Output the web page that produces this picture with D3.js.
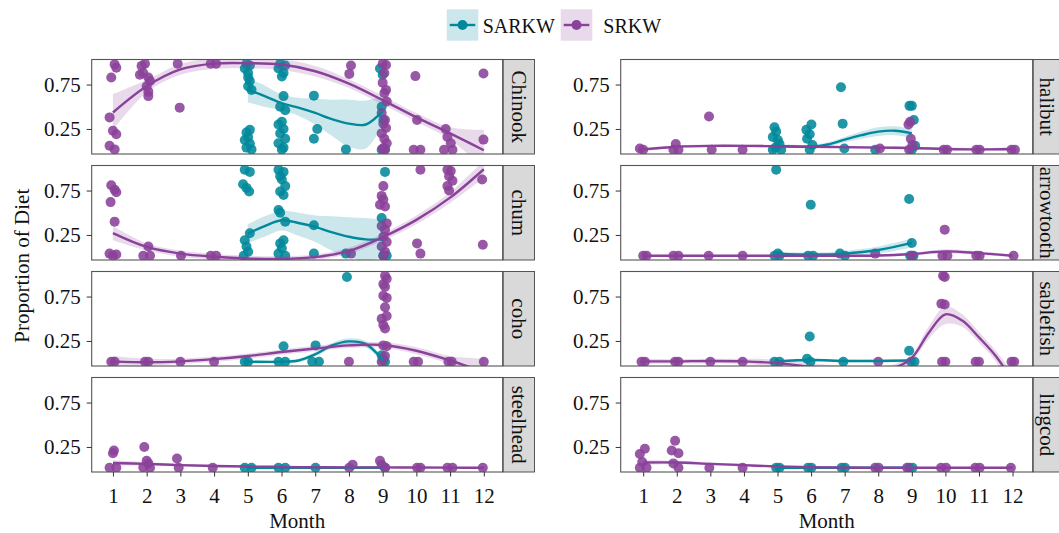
<!DOCTYPE html>
<html><head><meta charset="utf-8">
<script src="https://cdn.jsdelivr.net/npm/d3@7"></script>
<style>
body{margin:0;background:#fff}
svg{display:block}
text{font-family:"Liberation Serif","Times New Roman",serif;fill:#111}
</style>
</head><body>
<svg id="chart" width="1059" height="533"></svg>
<script>
// ---------- data ----------
const months = [1,2,3,4,5,6,7,8,9,10,11,12];
const yTicks = [0.25, 0.75];
const populations = ["SARKW","SRKW"];
const leftPrey = ["Chinook","chum","coho","steelhead"];
const rightPrey = ["halibut","arrowtooth","sablefish","lingcod"];

// points: [month (jittered), proportion]
const chinookSRKW = [[1.05,0.977],[1.1,0.94],[0.95,0.83],[0.9,0.38],[1.0,0.23],[1.1,0.19],[0.9,0.06],[1.05,0.02],
 [1.95,0.984],[1.85,0.96],[1.9,0.88],[1.8,0.86],[2.05,0.83],[2.1,0.79],[2.0,0.73],[2.05,0.67],[2.05,0.62],
 [2.92,0.984],[2.98,0.49],[3.9,0.984],[4.06,0.984],[8.06,0.965],[8.01,0.87],
 [9.0,0.984],[9.1,0.97],[9.05,0.88],[9.0,0.77],[9.1,0.69],[9.05,0.655],[9.12,0.56],[8.97,0.43],[9.07,0.35],[9.02,0.31],[9.1,0.26],[8.97,0.2],[9.05,0.14],[9.12,0.09],[9.0,0.03],[9.07,0.016],
 [9.97,0.845],[10.02,0.35],[9.92,0.016],[10.12,0.016],
 [10.87,0.25],[10.92,0.16],[11.02,0.09],[11.07,0.016],[10.82,0.016],[11.99,0.875],[11.99,0.13]];
const chinookSARKW = [[4.96,0.984],[5.06,0.965],[4.91,0.93],[5.01,0.88],[5.01,0.83],[5.06,0.79],[5.01,0.73],[5.11,0.69],
 [5.06,0.24],[4.96,0.21],[5.01,0.16],[4.91,0.125],[5.06,0.087],[4.96,0.04],[5.11,0.02],
 [5.96,0.984],[6.11,0.965],[5.91,0.93],[6.06,0.88],[6.01,0.84],[6.06,0.62],[5.96,0.5],[6.11,0.46],[6.01,0.33],[5.91,0.3],[6.06,0.25],[5.96,0.2],[6.11,0.14],[5.91,0.09],[6.06,0.04],[6.01,0.02],
 [6.96,0.625],[7.06,0.25],[6.96,0.14],[7.91,0.02],
 [8.92,0.93],[9.0,0.86],[8.97,0.5],[9.02,0.35],[9.07,0.03],[8.97,0.016]];
const chumSRKW = [[0.95,0.81],[1.05,0.76],[1.1,0.73],[0.93,0.62],[1.05,0.4],[0.9,0.04],[1.0,0.016],[1.1,0.03],
 [2.05,0.12],[1.9,0.016],[2.1,0.016],[3.02,0.016],[3.9,0.016],[4.06,0.016],[8.06,0.04],
 [9.02,0.8],[8.97,0.69],[9.02,0.65],[8.92,0.59],[9.07,0.57],[9.12,0.38],[8.97,0.35],[9.07,0.31],[9.02,0.23],[9.12,0.17],[8.97,0.12],[9.07,0.06],[9.02,0.016],
 [10.12,0.984],[10.02,0.155],[10.12,0.04],
 [10.92,0.984],[11.02,0.97],[10.97,0.91],[11.07,0.86],[10.92,0.8],[10.97,0.75],[11.95,0.875],[11.97,0.14]];
const chumSARKW = [[4.91,0.984],[5.06,0.96],[4.86,0.82],[4.96,0.78],[5.04,0.74],[5.06,0.27],[4.91,0.19],[4.96,0.12],[5.01,0.06],[4.88,0.016],
 [5.91,0.984],[6.06,0.96],[5.96,0.91],[6.01,0.875],[6.11,0.8],[5.96,0.74],[6.06,0.7],[5.91,0.53],[5.96,0.5],[6.11,0.4],[6.06,0.19],[5.96,0.155],[6.01,0.1],[5.91,0.04],[6.11,0.016],
 [6.96,0.36],[6.96,0.04],[7.91,0.04],[9.07,0.96],[8.97,0.44],[9.02,0.016],[9.12,0.016]];
const cohoSRKW = [[0.95,0.016],[1.05,0.016],[1.95,0.016],[2.05,0.016],[3.0,0.016],[4.0,0.016],[8.0,0.016],[9.92,0.016],[10.05,0.016],[10.95,0.016],[11.05,0.016],[12.0,0.016],
 [9.07,0.984],[9.12,0.95],[9.02,0.89],[9.07,0.86],[9.02,0.76],[9.12,0.735],[9.07,0.63],[9.12,0.53],[8.97,0.5],[9.02,0.43],[9.07,0.39],[9.02,0.2],[9.12,0.19],[9.07,0.08],[8.97,0.016]];
const cohoSARKW = [[5.01,0.016],[4.91,0.016],[5.91,0.016],[6.11,0.016],[6.06,0.19],[7.01,0.2],[6.91,0.016],[7.11,0.016],[7.94,0.97],[8.97,0.09],[9.02,0.04],[9.07,0.016]];
const steelheadSRKW = [[1.03,0.21],[1.0,0.18],[0.9,0.016],[1.1,0.016],[1.93,0.25],[2.0,0.095],[2.05,0.065],[1.9,0.02],[2.1,0.016],
 [2.9,0.12],[2.95,0.016],[3.96,0.016],[8.11,0.05],[8.01,0.016],[8.92,0.095],[8.97,0.05],[9.07,0.016],
 [10.02,0.016],[10.12,0.016],[10.92,0.016],[11.07,0.016],[11.97,0.016]];
const steelheadSARKW = [[4.91,0.016],[5.11,0.016],[5.91,0.016],[6.11,0.016],[7.01,0.016],[9.07,0.016]];
const halibutSRKW = [[0.9,0.03],[1.0,0.016],[1.97,0.08],[2.05,0.016],[1.9,0.016],[2.96,0.39],[3.04,0.016],[3.96,0.016],[8.05,0.03],
 [8.9,0.3],[8.95,0.33],[8.97,0.14],[9.02,0.07],[8.92,0.016],[9.95,0.016],[10.05,0.016],[10.92,0.016],[11.02,0.016],[11.97,0.016],[12.07,0.016]];
const halibutSARKW = [[4.91,0.27],[4.96,0.22],[4.86,0.16],[5.01,0.125],[5.06,0.08],[4.94,0.04],[5.11,0.016],[4.86,0.016],
 [6.01,0.3],[5.86,0.24],[5.96,0.19],[5.88,0.14],[6.04,0.07],[5.96,0.016],
 [6.89,0.72],[6.94,0.31],[6.99,0.03],[7.91,0.016],[8.93,0.51],[9.0,0.51],[9.06,0.35],[9.1,0.06],[9.0,0.016]];
const arrowtoothSRKW = [[1.0,0.016],[1.1,0.016],[1.9,0.016],[2.05,0.016],[2.95,0.016],[3.96,0.016],[7.91,0.04],[9.0,0.016],
 [9.98,0.31],[9.91,0.016],[10.06,0.016],[10.92,0.016],[11.02,0.016],[12.03,0.016]];
const arrowtoothSARKW = [[4.96,0.984],[5.01,0.04],[5.06,0.016],[4.91,0.016],[5.99,0.59],[5.91,0.016],[6.06,0.016],[6.86,0.04],[7.01,0.016],
 [8.92,0.655],[9.0,0.16],[8.95,0.016],[9.05,0.016]];
const sablefishSRKW = [[0.95,0.016],[1.05,0.016],[1.95,0.016],[2.05,0.016],[3.0,0.016],[3.96,0.016],[8.0,0.016],
 [9.93,0.984],[9.98,0.97],[9.88,0.67],[9.98,0.66],[9.9,0.016],[10.0,0.016],[10.9,0.016],[11.0,0.016],[11.97,0.016],[12.05,0.016]];
const sablefishSARKW = [[4.91,0.016],[5.06,0.016],[5.96,0.3],[5.88,0.05],[5.98,0.016],[6.96,0.016],[8.92,0.14],[8.98,0.016],[9.08,0.016]];
const lingcodSRKW = [[0.9,0.17],[1.05,0.23],[0.97,0.08],[1.1,0.016],[0.9,0.016],[1.95,0.32],[1.85,0.21],[2.05,0.18],[1.9,0.065],[2.05,0.016],
 [2.97,0.016],[3.96,0.016],[7.91,0.016],[8.01,0.016],[8.86,0.016],[9.87,0.016],[10.02,0.016],[10.89,0.016],[11.02,0.016],[11.95,0.016]];
const lingcodSARKW = [[4.96,0.016],[5.06,0.016],[5.91,0.016],[6.01,0.016],[6.91,0.016],[7.01,0.016],[8.92,0.016],[9.02,0.016]];

// smooth fits: [month, fit, lower, upper]
const chinookFitSRKW = [[1,0.435,0.24,0.64],[2,0.73,0.66,0.8],[3,0.92,0.86,0.98],[4,0.985,0.925,1.045],[5,0.99,0.93,1.05],[6,0.975,0.915,1.035],[7,0.9,0.84,0.96],[8,0.76,0.71,0.81],[9,0.575,0.525,0.625],[10,0.38,0.33,0.43],[11,0.2,0.13,0.27],[12,0.01,-0.2,0.24]];
const chinookFitSARKW = [[5,0.69,0.55,0.82],[5.5,0.62,0.5,0.74],[6,0.54,0.46,0.64],[6.5,0.49,0.4,0.6],[7,0.43,0.3,0.59],[7.5,0.36,0.17,0.58],[8,0.31,0.05,0.58],[8.5,0.3,0.03,0.57],[9,0.45,0.3,0.62]];
const chumFitSRKW = [[1,0.27,0.19,0.35],[2,0.115,0.075,0.155],[3,0.04,0.005,0.075],[4,0.005,-0.025,0.035],[5,-0.015,-0.045,0.015],[6,-0.02,-0.05,0.01],[7,0.0,-0.03,0.03],[8,0.07,0.035,0.105],[9,0.225,0.185,0.265],[10,0.42,0.37,0.47],[11,0.67,0.61,0.73],[12,0.99,0.89,1.09]];
const chumFitSARKW = [[5,0.265,0.16,0.37],[5.5,0.35,0.23,0.46],[6,0.415,0.3,0.52],[6.5,0.385,0.24,0.5],[7,0.34,0.17,0.47],[7.5,0.28,0.07,0.46],[8,0.23,0.0,0.45],[8.5,0.2,-0.04,0.44],[9,0.2,0.0,0.42]];
const cohoFitSRKW = [[1,0.02,-0.04,0.08],[2,0.01,-0.03,0.05],[3,0.02,-0.01,0.05],[4,0.045,0.015,0.075],[5,0.08,0.05,0.11],[6,0.125,0.095,0.155],[7,0.165,0.135,0.195],[8,0.2,0.17,0.23],[9,0.205,0.175,0.235],[10,0.14,0.1,0.18],[11,0.03,-0.02,0.08],[12,-0.1,-0.25,0.05]];
const cohoFitSARKW = [[5,0.016,0.0,0.032],[6,0.016,0.0,0.032],[6.5,0.03,0.01,0.05],[7,0.1,0.075,0.125],[7.5,0.2,0.17,0.23],[8,0.245,0.21,0.28],[8.5,0.215,0.18,0.25],[9,0.04,0.01,0.07]];
const steelheadFitSRKW = [[1,0.07,0.04,0.1],[2,0.06,0.04,0.08],[3,0.045,0.03,0.06],[4,0.035,0.02,0.05],[5,0.03,0.02,0.04],[6,0.025,0.015,0.035],[7,0.022,0.012,0.032],[8,0.02,0.01,0.03],[9,0.02,0.01,0.03],[10,0.018,0.008,0.028],[11,0.017,0.007,0.027],[12,0.016,0.006,0.026]];
const steelheadFitSARKW = [[5,0.016,0.01,0.022],[6,0.016,0.01,0.022],[7,0.016,0.01,0.022],[8,0.016,0.01,0.022],[9,0.016,0.01,0.022]];
const halibutFitSRKW = [[1,0.02,0.0,0.04],[2,0.05,0.035,0.065],[3,0.06,0.045,0.075],[4,0.06,0.045,0.075],[5,0.055,0.04,0.07],[6,0.05,0.035,0.065],[7,0.045,0.03,0.06],[8,0.04,0.025,0.055],[9,0.035,0.02,0.05],[10,0.025,0.01,0.04],[11,0.02,0.005,0.035],[12,0.025,0.005,0.045]];
const halibutFitSARKW = [[5,0.06,0.04,0.08],[6,0.05,0.03,0.07],[6.5,0.075,0.05,0.1],[7,0.13,0.1,0.16],[7.5,0.18,0.14,0.22],[8,0.22,0.17,0.27],[8.5,0.23,0.18,0.28],[9,0.2,0.15,0.25]];
const arrowtoothFitSRKW = [[1,0.016,0.006,0.026],[2,0.016,0.006,0.026],[3,0.016,0.006,0.026],[4,0.016,0.006,0.026],[5,0.016,0.006,0.026],[6,0.016,0.006,0.026],[7,0.016,0.006,0.026],[8,0.018,0.006,0.03],[9,0.035,0.02,0.05],[10,0.065,0.04,0.09],[11,0.045,0.025,0.065],[12,0.016,0.0,0.032]];
const arrowtoothFitSARKW = [[5,0.04,0.02,0.06],[6,0.03,0.01,0.05],[7,0.04,0.015,0.07],[8,0.08,0.04,0.12],[9,0.16,0.11,0.21]];
const sablefishFitSRKW = [[1,0.02,-0.01,0.05],[2,0.02,-0.005,0.045],[3,0.025,0.0,0.05],[4,0.02,-0.01,0.05],[5,0.0,-0.04,0.04],[6,-0.04,-0.08,0.0],[7,-0.07,-0.11,-0.03],[8,-0.08,-0.12,-0.04],[8.5,-0.05,-0.09,-0.01],[9,0.06,0.02,0.1],[9.5,0.34,0.27,0.41],[10,0.55,0.44,0.64],[10.5,0.48,0.41,0.55],[11,0.29,0.23,0.35],[11.5,0.08,0.02,0.14],[12,-0.2,-0.29,-0.11]];
const sablefishFitSARKW = [[5,0.02,0.005,0.035],[6,0.035,0.02,0.05],[7,0.025,0.01,0.04],[8,0.025,0.01,0.04],[9,0.03,0.01,0.05]];
const lingcodFitSRKW = [[1,0.075,0.05,0.1],[2,0.075,0.055,0.095],[3,0.06,0.045,0.075],[4,0.045,0.03,0.06],[5,0.03,0.02,0.04],[6,0.022,0.012,0.032],[7,0.018,0.008,0.028],[8,0.016,0.006,0.026],[9,0.016,0.006,0.026],[10,0.016,0.006,0.026],[11,0.016,0.006,0.026],[12,0.016,0.006,0.026]];
const lingcodFitSARKW = [[5,0.016,0.01,0.022],[6,0.016,0.01,0.022],[7,0.016,0.01,0.022],[8,0.016,0.01,0.022],[9,0.016,0.01,0.022]];

// ---------- table built from the arrays ----------
const panelTable = [
  {prey:"Chinook", pts:[chinookSARKW, chinookSRKW], fit:[chinookFitSARKW, chinookFitSRKW]},
  {prey:"chum", pts:[chumSARKW, chumSRKW], fit:[chumFitSARKW, chumFitSRKW]},
  {prey:"coho", pts:[cohoSARKW, cohoSRKW], fit:[cohoFitSARKW, cohoFitSRKW]},
  {prey:"steelhead", pts:[steelheadSARKW, steelheadSRKW], fit:[steelheadFitSARKW, steelheadFitSRKW]},
  {prey:"halibut", pts:[halibutSARKW, halibutSRKW], fit:[halibutFitSARKW, halibutFitSRKW]},
  {prey:"arrowtooth", pts:[arrowtoothSARKW, arrowtoothSRKW], fit:[arrowtoothFitSARKW, arrowtoothFitSRKW]},
  {prey:"sablefish", pts:[sablefishSARKW, sablefishSRKW], fit:[sablefishFitSARKW, sablefishFitSRKW]},
  {prey:"lingcod", pts:[lingcodSARKW, lingcodSRKW], fit:[lingcodFitSARKW, lingcodFitSRKW]}
];

// ---------- layout & style ----------
const colors = ["#00899B", "#8A4199"];
const cols = [{x0:91.7, x1:502.7, dom:[0.37,12.56]}, {x0:620.7, x1:1032.7, dom:[0.33,12.6]}];
const rowTop = [59.5, 165.5, 271.5, 377.5];
const H = 94.5, stripW = 31.3, FS = 21;
const yDomain = [-0.032, 1.032];

const svg = d3.select("#chart");
const defs = svg.append("defs");

panelTable.forEach((p, i) => {
  const colIdx = leftPrey.includes(p.prey) ? 0 : 1;
  const rowIdx = colIdx === 0 ? leftPrey.indexOf(p.prey) : rightPrey.indexOf(p.prey);
  const c = cols[colIdx], top = rowTop[rowIdx];
  const x = d3.scaleLinear().domain(c.dom).range([c.x0, c.x1]);
  const y = d3.scaleLinear().domain(yDomain).range([top + H, top]);
  const cid = "clip" + i;
  defs.append("clipPath").attr("id", cid).append("rect")
    .attr("x", c.x0).attr("y", top).attr("width", c.x1 - c.x0).attr("height", H);

  const g = svg.append("g");
  g.append("rect").attr("x", c.x0).attr("y", top).attr("width", c.x1 - c.x0).attr("height", H).attr("fill", "#fff");
  const inner = g.append("g").attr("clip-path", `url(#${cid})`);

  populations.forEach((pop, k) => {
    inner.append("g").selectAll("circle").data(p.pts[k]).join("circle")
      .attr("cx", d => x(d[0])).attr("cy", d => y(d[1])).attr("r", 5)
      .attr("fill", colors[k]).attr("fill-opacity", 0.88);
  });
  populations.forEach((pop, k) => {
    const area = d3.area().x(d => x(d[0])).y0(d => y(d[2])).y1(d => y(d[3])).curve(d3.curveCatmullRom.alpha(0.5));
    const line = d3.line().x(d => x(d[0])).y(d => y(d[1])).curve(d3.curveCatmullRom.alpha(0.5));
    inner.append("path").datum(p.fit[k]).attr("d", area).attr("fill", colors[k]).attr("fill-opacity", 0.2);
    inner.append("path").datum(p.fit[k]).attr("d", line).attr("fill", "none")
      .attr("stroke", colors[k]).attr("stroke-width", 2.4);
  });

  g.append("rect").attr("x", c.x0).attr("y", top).attr("width", c.x1 - c.x0).attr("height", H)
    .attr("fill", "none").attr("stroke", "#555").attr("stroke-width", 1.1);

  // y axis
  const ya = g.append("g").attr("transform", `translate(${c.x0},0)`)
    .call(d3.axisLeft(y).tickValues(yTicks).tickSize(5).tickPadding(6).tickFormat(d3.format(".2f")));
  ya.select(".domain").remove();
  ya.selectAll("line").attr("stroke", "#333");
  ya.selectAll("text").attr("font-size", FS).attr("font-family", "Liberation Serif").attr("fill", "#111");

  // x axis on bottom row
  if (rowIdx === 3) {
    const xa = g.append("g").attr("transform", `translate(0,${top + H})`)
      .call(d3.axisBottom(x).tickValues(months).tickSize(4.5).tickPadding(11.5).tickFormat(d3.format("d")));
    xa.select(".domain").remove();
    xa.selectAll("line").attr("stroke", "#333");
    xa.selectAll("text").attr("font-size", FS).attr("font-family", "Liberation Serif").attr("fill", "#111");
    g.append("text").attr("x", (c.x0 + c.x1) / 2).attr("y", 528).attr("text-anchor", "middle")
      .attr("font-size", FS).text("Month");
  }

  // strip
  g.append("rect").attr("x", c.x1 + 0.5).attr("y", top).attr("width", stripW).attr("height", H)
    .attr("fill", "#D9D9D9").attr("stroke", "#444").attr("stroke-width", 0.9);
  g.append("text").attr("transform", `translate(${c.x1 + 0.5 + stripW / 2 - (colIdx ? 1.5 : 0)},${top + H / 2}) rotate(90)`)
    .attr("text-anchor", "middle").attr("dominant-baseline", "central")
    .attr("font-size", FS).text(p.prey);
});

// y title
svg.append("text").attr("transform", `translate(28.5,${(rowTop[0] + rowTop[3] + H) / 2}) rotate(-90)`)
  .attr("text-anchor", "middle").attr("font-size", FS).text("Proportion of Diet");

// legend
const legendX = [446.7, 560.7], legendTextX = [482.7, 603.3];
populations.forEach((pop, k) => {
  const lg = svg.append("g");
  lg.append("rect").attr("x", legendX[k]).attr("y", 9.3).attr("width", 31.6).attr("height", 31.4)
    .attr("fill", colors[k]).attr("fill-opacity", 0.2);
  lg.append("line").attr("x1", legendX[k] + 3).attr("x2", legendX[k] + 28.6).attr("y1", 25).attr("y2", 25)
    .attr("stroke", colors[k]).attr("stroke-width", 2.4);
  lg.append("circle").attr("cx", legendX[k] + 15.8).attr("cy", 25).attr("r", 5).attr("fill", colors[k]);
  lg.append("text").attr("x", legendTextX[k]).attr("y", 33.3).attr("font-size", 20).text(pop);
});
</script>
</body></html>
